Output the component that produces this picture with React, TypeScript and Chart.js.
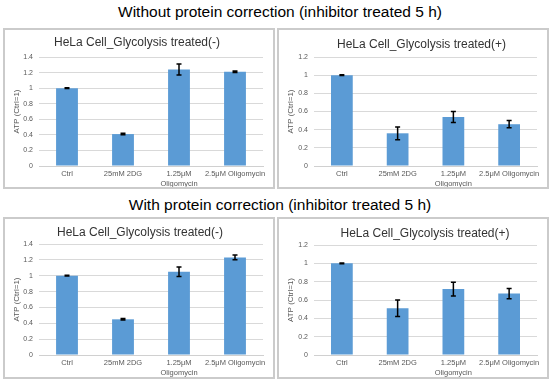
import React, { useEffect, useRef } from "react";
import { Chart, registerables } from "chart.js";

Chart.register(...registerables);

const categories: (string | string[])[] = ["Ctrl", "25mM 2DG", ["1.25μM", "Oligomycin"], "2.5μM Oligomycin"];

const withoutMinusValues = [1.0, 0.41, 1.24, 1.21];
const withoutMinusErrors = [0.005, 0.01, 0.07, 0.01];
const withoutPlusValues = [1.0, 0.36, 0.54, 0.46];
const withoutPlusErrors = [0.005, 0.07, 0.06, 0.04];
const withMinusValues = [1.0, 0.45, 1.05, 1.23];
const withMinusErrors = [0.005, 0.01, 0.06, 0.03];
const withPlusValues = [1.0, 0.51, 0.72, 0.67];
const withPlusErrors = [0.005, 0.09, 0.075, 0.055];

const titleMinus = "HeLa Cell_Glycolysis treated(-)";
const titlePlus = "HeLa Cell_Glycolysis treated(+)";
const topHeading = "Without protein correction (inhibitor treated 5 h)";
const bottomHeading = "With protein correction (inhibitor treated 5 h)";
const yAxisTitle = "ATP (Ctrl=1)";

const FONT = "'Liberation Sans', Arial, sans-serif";

const errorBarPlugin = {
  id: "errorBars",
  afterDatasetsDraw(chart: any) {
    const ctx = chart.ctx;
    const yScale = chart.scales.y;
    chart.data.datasets.forEach((ds: any, di: number) => {
      const meta = chart.getDatasetMeta(di);
      const errs: number[] = ds.errors || [];
      meta.data.forEach((bar: any, i: number) => {
        const v = ds.data[i];
        const e = errs[i] || 0;
        const x = bar.x;
        const yt = yScale.getPixelForValue(v + e);
        const yb = yScale.getPixelForValue(v - e);
        ctx.save();
        ctx.strokeStyle = "#000";
        ctx.lineWidth = 1.5;
        ctx.beginPath();
        ctx.moveTo(x, yt);
        ctx.lineTo(x, yb);
        ctx.moveTo(x - 2.5, yt);
        ctx.lineTo(x + 2.5, yt);
        ctx.moveTo(x - 2.5, yb);
        ctx.lineTo(x + 2.5, yb);
        ctx.stroke();
        ctx.restore();
      });
    });
  },
};

const panelTitlePlugin = {
  id: "panelTitle",
  afterDraw(chart: any, _args: any, opts: any) {
    const ctx = chart.ctx;
    ctx.save();
    ctx.fillStyle = "#333333";
    ctx.font = `12px ${FONT}`;
    ctx.textAlign = "center";
    ctx.textBaseline = "middle";
    ctx.fillText(opts.text, opts.x, opts.y);
    ctx.restore();
  },
};

type PanelProps = {
  left: number;
  top: number;
  width: number;
  height: number;
  title: string;
  titleX: number;
  titleY: number;
  values: number[];
  errors: number[];
  yMax: number;
  plotTop: number;
  xAxisHeight: number;
  yAxisWidth: number;
};

function Panel(p: PanelProps) {
  const ref = useRef<HTMLCanvasElement>(null);
  const cw = p.width - 4;
  const ch = p.height - 4;
  useEffect(() => {
    if (!ref.current) return;
    const chart = new Chart(ref.current, {
      type: "bar",
      data: {
        labels: categories as any,
        datasets: [
          {
            data: p.values,
            errors: p.errors,
            backgroundColor: "#5B9BD5",
            borderWidth: 0,
            barPercentage: 0.39,
            categoryPercentage: 1,
          } as any,
        ],
      },
      options: {
        responsive: false,
        animation: false,
        maintainAspectRatio: false,
        layout: { padding: { left: 0, right: 10, top: p.plotTop, bottom: 0 } },
        plugins: {
          legend: { display: false },
          tooltip: { enabled: false },
          title: { display: false },
          panelTitle: { text: p.title, x: p.titleX, y: p.titleY },
        } as any,
        scales: {
          x: {
            grid: { display: false, drawTicks: false },
            border: { display: true, color: "#D0D0D0", width: 1 },
            ticks: {
              color: "#595959",
              font: { family: FONT, size: 7.5, lineHeight: 1.3 },
              padding: 3,
              maxRotation: 0,
              minRotation: 0,
              autoSkip: false,
            },
            afterFit: (s: any) => {
              s.height = p.xAxisHeight;
            },
          },
          y: {
            min: 0,
            max: p.yMax,
            grid: { color: "#D9D9D9", drawTicks: false, lineWidth: 1 },
            border: { display: false },
            ticks: {
              stepSize: 0.2,
              color: "#595959",
              font: { family: FONT, size: 7 },
              padding: 6,
              callback: (v: any) => String(Number(Number(v).toFixed(1))),
            },
            title: {
              display: true,
              text: yAxisTitle,
              color: "#595959",
              font: { family: FONT, size: 8 },
              padding: { top: 7, bottom: 2 },
            },
            afterFit: (s: any) => {
              s.width = p.yAxisWidth;
            },
          },
        },
      },
      plugins: [errorBarPlugin, panelTitlePlugin],
    });
    return () => chart.destroy();
  }, []);
  return (
    <div
      style={{
        position: "absolute",
        left: p.left,
        top: p.top,
        width: p.width,
        height: p.height,
        boxSizing: "border-box",
        border: "2px solid #CBCBCB",
        background: "#fff",
      }}
    >
      <canvas ref={ref} width={cw} height={ch} style={{ display: "block", width: cw, height: ch }} />
    </div>
  );
}

const headingStyle: React.CSSProperties = {
  position: "absolute",
  left: 0,
  width: 560,
  textAlign: "center",
  fontFamily: FONT,
  fontSize: 15.5,
  color: "#000",
  lineHeight: "18px",
  whiteSpace: "nowrap",
};

export default function App() {
  return (
    <div style={{ position: "absolute", left: 0, top: 0, width: 550, height: 384, background: "#fff", overflow: "hidden" }}>
      <div style={{ ...headingStyle, top: 3 }}>{topHeading}</div>
      <div style={{ ...headingStyle, top: 196 }}>{bottomHeading}</div>
      <Panel left={3} top={28} width={272} height={161} title={titleMinus} titleX={132} titleY={13} values={withoutMinusValues} errors={withoutMinusErrors} yMax={1.4} plotTop={27} xAxisHeight={21} yAxisWidth={34} />
      <Panel left={277} top={28} width={272} height={161} title={titlePlus} titleX={142.5} titleY={15} values={withoutPlusValues} errors={withoutPlusErrors} yMax={1.2} plotTop={27} xAxisHeight={21} yAxisWidth={35} />
      <Panel left={3} top={217} width={272} height={162} title={titleMinus} titleX={135} titleY={14} values={withMinusValues} errors={withMinusErrors} yMax={1.4} plotTop={25} xAxisHeight={22} yAxisWidth={34} />
      <Panel left={277} top={217} width={272} height={162} title={titlePlus} titleX={146} titleY={15} values={withPlusValues} errors={withPlusErrors} yMax={1.2} plotTop={26} xAxisHeight={22} yAxisWidth={35} />
    </div>
  );
}
